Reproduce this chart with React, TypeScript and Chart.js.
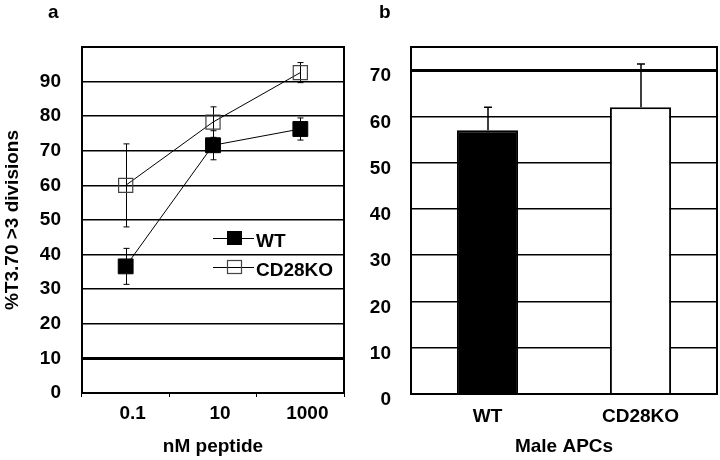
import React, { useEffect, useRef } from 'react';
import { Chart, registerables } from 'chart.js';

Chart.register(...registerables);

// ---- Panel a data ----
const doseLabels = ['0.1', '10', '1000'];
const wtMeans = [36.6, 71.6, 76.3];
const wtErrors = [5.2, 4.2, 3.2];
const koMeans = [60.0, 78.3, 92.6];
const koErrors = [12.0, 4.4, 2.9];
const legendLabels = ['WT', 'CD28KO'];

// ---- Panel b data ----
const apcLabels = ['WT', 'CD28KO'];
const apcMeans = [57.0, 62.0];
const apcErrors = [5.0, 9.3];

const FONT = "'Liberation Sans', Arial, sans-serif";
const f = (size: number) => ({ family: FONT, size, weight: 'bold' as const });

function boxPlugin(letter: string, lx: number) {
  return {
    id: 'box' + letter,
    afterDraw(chart: any) {
      const { ctx, chartArea: a } = chart;
      ctx.save();
      ctx.strokeStyle = '#000';
      ctx.lineWidth = 2;
      ctx.strokeRect(a.left, a.top, a.right - a.left, a.bottom - a.top);
      ctx.fillStyle = '#000';
      ctx.font = `bold 19px ${FONT}`;
      ctx.textBaseline = 'alphabetic';
      ctx.textAlign = 'left';
      ctx.fillText(letter, lx, 18);
      ctx.restore();
    },
  };
}

function PanelA() {
  const ref = useRef<HTMLCanvasElement>(null);
  useEffect(() => {
    const errPlugin = {
      id: 'errA',
      beforeDatasetsDraw(chart: any) {
        const { ctx, scales } = chart;
        const x = scales.x;
        const y = scales.y;
        ctx.save();
        ctx.strokeStyle = '#000';
        ctx.lineWidth = 1;
        const series = [
          [wtMeans, wtErrors],
          [koMeans, koErrors],
        ];
        series.forEach(([m, e]) => {
          m.forEach((v, i) => {
            const px = Math.round(x.getPixelForValue(i)) + 0.5;
            const t = y.getPixelForValue(v + e[i]);
            const b = y.getPixelForValue(v - e[i]);
            ctx.beginPath();
            ctx.moveTo(px, t);
            ctx.lineTo(px, b);
            ctx.moveTo(px - 3, t);
            ctx.lineTo(px + 3, t);
            ctx.moveTo(px - 3, b);
            ctx.lineTo(px + 3, b);
            ctx.stroke();
          });
        });
        ctx.restore();
      },
      afterDraw(chart: any) {
        const { ctx } = chart;
        ctx.save();
        const rows = [238, 267];
        legendLabels.forEach((lab, i) => {
          const yy = rows[i];
          ctx.strokeStyle = '#000';
          ctx.lineWidth = 1;
          ctx.beginPath();
          ctx.moveTo(213, yy + 0.5);
          ctx.lineTo(254, yy + 0.5);
          ctx.stroke();
          if (i === 0) {
            ctx.fillStyle = '#000';
            ctx.fillRect(227, yy - 7, 15, 14);
          } else {
            ctx.strokeStyle = '#444';
            ctx.lineWidth = 1.2;
            ctx.strokeRect(227.5, yy - 6.5, 14, 13);
          }
          ctx.fillStyle = '#000';
          ctx.font = `bold 19px ${FONT}`;
          ctx.textAlign = 'left';
          ctx.textBaseline = 'alphabetic';
          ctx.fillText(lab, 256, yy + 9);
        });
        ctx.restore();
      },
    };
    const chart = new Chart(ref.current!, {
      type: 'line',
      data: {
        labels: doseLabels,
        datasets: [
          {
            label: 'WT',
            data: wtMeans,
            borderColor: '#000',
            borderWidth: 1,
            pointStyle: 'rect',
            pointRadius: 10.5,
            pointBackgroundColor: '#000',
            pointBorderColor: '#000',
            pointBorderWidth: 1,
            tension: 0,
          },
          {
            label: 'CD28KO',
            data: koMeans,
            borderColor: '#000',
            borderWidth: 1,
            pointStyle: 'rect',
            pointRadius: 10,
            pointBackgroundColor: 'rgba(0,0,0,0)',
            pointBorderColor: '#444',
            pointBorderWidth: 1.2,
            tension: 0,
          },
        ],
      },
      options: {
        responsive: false,
        animation: false,
        layout: { padding: { left: 0, right: 16, top: 47, bottom: 0 } },
        plugins: { legend: { display: false }, tooltip: { enabled: false } },
        scales: {
          x: {
            type: 'category',
            offset: true,
            grid: { offset: true, drawOnChartArea: false, drawTicks: true, tickLength: 4, color: '#000', lineWidth: 1 },
            border: { display: false },
            ticks: { font: f(19), color: '#000', padding: 5, labelOffset: 7, maxRotation: 0 },
            title: { display: true, text: 'nM peptide', font: f(19), color: '#000', padding: { top: 0, bottom: 2 } },
            afterFit: (s: any) => { s.height = 67; },
          },
          y: {
            min: 0,
            max: 100,
            ticks: { stepSize: 10, font: f(19), color: '#000', padding: 21 },
            grid: {
              drawTicks: false,
              color: '#000',
              lineWidth: (c: any) => (c.tick && c.tick.value === 10 ? 3 : 1.6),
            },
            border: { display: false },
            title: { display: true, text: '%T3.70 >3 divisions', font: f(19), color: '#000', padding: { top: 1, bottom: 0 } },
            afterBuildTicks: (s: any) => { s.ticks = s.ticks.filter((t: any) => t.value <= 90); },
            afterFit: (s: any) => { s.width = 82; },
          },
        },
      },
      plugins: [errPlugin, boxPlugin('a', 48)],
    });
    return () => chart.destroy();
  }, []);
  return <canvas ref={ref} width={360} height={460} style={{ position: 'absolute', left: 0, top: 0 }} />;
}

function PanelB() {
  const ref = useRef<HTMLCanvasElement>(null);
  useEffect(() => {
    const errPlugin = {
      id: 'errB',
      afterDatasetsDraw(chart: any) {
        const { ctx, scales } = chart;
        const x = scales.x;
        const y = scales.y;
        ctx.save();
        ctx.strokeStyle = '#000';
        ctx.lineWidth = 1.5;
        apcMeans.forEach((v, i) => {
          const px = Math.round(x.getPixelForValue(i));
          const t = y.getPixelForValue(v + apcErrors[i]);
          const b = y.getPixelForValue(v);
          ctx.beginPath();
          ctx.moveTo(px, t);
          ctx.lineTo(px, b);
          ctx.moveTo(px - 4, t);
          ctx.lineTo(px + 4, t);
          ctx.stroke();
        });
        ctx.restore();
      },
    };
    const chart = new Chart(ref.current!, {
      type: 'bar',
      data: {
        labels: apcLabels,
        datasets: [
          {
            label: 'Male APCs',
            data: apcMeans,
            backgroundColor: ['#000', '#fff'],
            borderColor: '#000',
            borderWidth: 2,
            barPercentage: 0.4,
            categoryPercentage: 1,
          },
        ],
      },
      options: {
        responsive: false,
        animation: false,
        layout: { padding: { left: 0, right: 3, top: 47, bottom: 0 } },
        plugins: { legend: { display: false }, tooltip: { enabled: false } },
        scales: {
          x: {
            grid: { display: false },
            border: { display: false },
            ticks: { font: f(19), color: '#000', padding: 3, maxRotation: 0 },
            title: { display: true, text: 'Male APCs', font: f(19), color: '#000', padding: { top: 0, bottom: 2 } },
            afterFit: (s: any) => { s.height = 66; },
          },
          y: {
            min: 0,
            max: 75,
            ticks: { stepSize: 10, font: f(19), color: '#000', padding: 20, labelOffset: 6 },
            grid: {
              drawTicks: false,
              color: '#000',
              lineWidth: (c: any) => (c.tick && c.tick.value === 70 ? 3 : 1.6),
            },
            border: { display: false },
            afterBuildTicks: (s: any) => { s.ticks = s.ticks.filter((t: any) => t.value <= 70); },
            afterFit: (s: any) => { s.width = 51; },
          },
        },
      },
      plugins: [errPlugin, boxPlugin('b', 19)],
    });
    return () => chart.destroy();
  }, []);
  return <canvas ref={ref} width={360} height={460} style={{ position: 'absolute', left: 360, top: 0 }} />;
}

export default function App() {
  return (
    <div style={{ position: 'absolute', left: 0, top: 0, width: 720, height: 460, background: '#fff', overflow: 'hidden' }}>
      <PanelA />
      <PanelB />
    </div>
  );
}
